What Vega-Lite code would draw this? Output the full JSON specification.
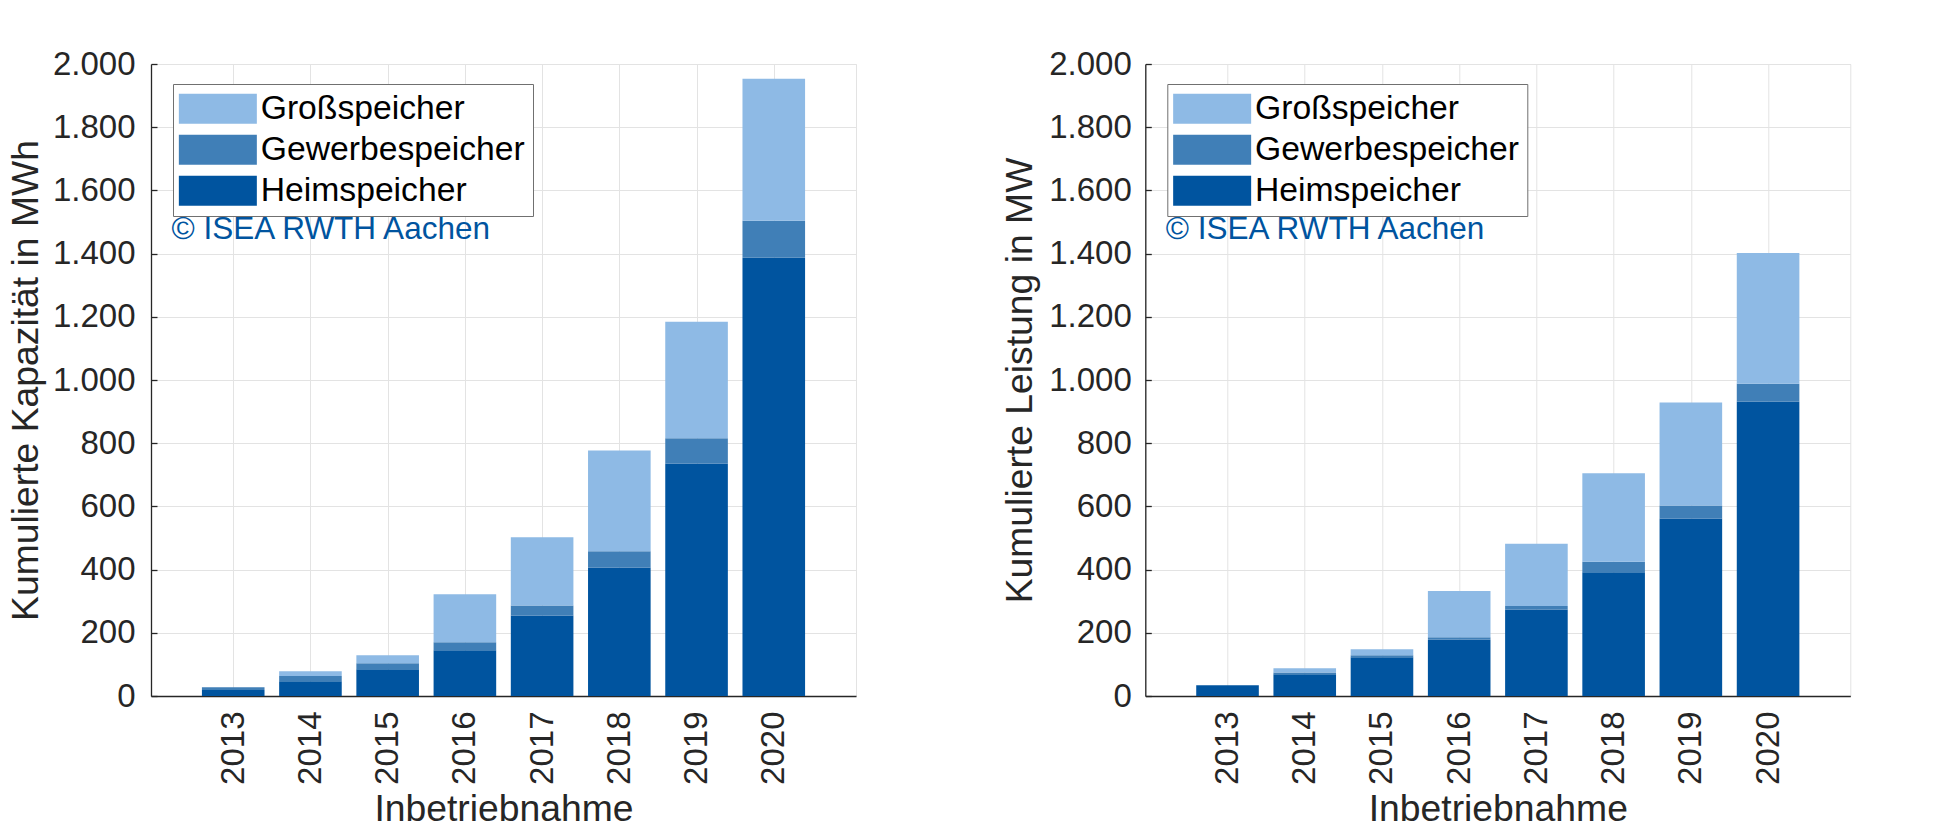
{
  "$schema": "https://vega.github.io/schema/vega-lite/v6.json",
  "background": "white",
  "padding": {"left": 6, "top": 47, "right": 10, "bottom": 5},
  "datasets": {
    "kapazitaet": [
      {"jahr": 2013, "typ": "Heimspeicher", "stapel": 1, "wert": 19},
      {"jahr": 2013, "typ": "Gewerbespeicher", "stapel": 2, "wert": 9},
      {"jahr": 2014, "typ": "Heimspeicher", "stapel": 1, "wert": 47},
      {"jahr": 2014, "typ": "Gewerbespeicher", "stapel": 2, "wert": 16},
      {"jahr": 2014, "typ": "Großspeicher", "stapel": 3, "wert": 15},
      {"jahr": 2015, "typ": "Heimspeicher", "stapel": 1, "wert": 85},
      {"jahr": 2015, "typ": "Gewerbespeicher", "stapel": 2, "wert": 19},
      {"jahr": 2015, "typ": "Großspeicher", "stapel": 3, "wert": 25},
      {"jahr": 2016, "typ": "Heimspeicher", "stapel": 1, "wert": 145},
      {"jahr": 2016, "typ": "Gewerbespeicher", "stapel": 2, "wert": 25},
      {"jahr": 2016, "typ": "Großspeicher", "stapel": 3, "wert": 152},
      {"jahr": 2017, "typ": "Heimspeicher", "stapel": 1, "wert": 255},
      {"jahr": 2017, "typ": "Gewerbespeicher", "stapel": 2, "wert": 31},
      {"jahr": 2017, "typ": "Großspeicher", "stapel": 3, "wert": 216},
      {"jahr": 2018, "typ": "Heimspeicher", "stapel": 1, "wert": 407},
      {"jahr": 2018, "typ": "Gewerbespeicher", "stapel": 2, "wert": 51},
      {"jahr": 2018, "typ": "Großspeicher", "stapel": 3, "wert": 319},
      {"jahr": 2019, "typ": "Heimspeicher", "stapel": 1, "wert": 736},
      {"jahr": 2019, "typ": "Gewerbespeicher", "stapel": 2, "wert": 80},
      {"jahr": 2019, "typ": "Großspeicher", "stapel": 3, "wert": 368},
      {"jahr": 2020, "typ": "Heimspeicher", "stapel": 1, "wert": 1387},
      {"jahr": 2020, "typ": "Gewerbespeicher", "stapel": 2, "wert": 117},
      {"jahr": 2020, "typ": "Großspeicher", "stapel": 3, "wert": 449}
    ],
    "leistung": [
      {"jahr": 2013, "typ": "Heimspeicher", "stapel": 1, "wert": 34},
      {"jahr": 2014, "typ": "Heimspeicher", "stapel": 1, "wert": 69},
      {"jahr": 2014, "typ": "Gewerbespeicher", "stapel": 2, "wert": 5},
      {"jahr": 2014, "typ": "Großspeicher", "stapel": 3, "wert": 14},
      {"jahr": 2015, "typ": "Heimspeicher", "stapel": 1, "wert": 123},
      {"jahr": 2015, "typ": "Gewerbespeicher", "stapel": 2, "wert": 6},
      {"jahr": 2015, "typ": "Großspeicher", "stapel": 3, "wert": 19},
      {"jahr": 2016, "typ": "Heimspeicher", "stapel": 1, "wert": 178},
      {"jahr": 2016, "typ": "Gewerbespeicher", "stapel": 2, "wert": 8},
      {"jahr": 2016, "typ": "Großspeicher", "stapel": 3, "wert": 146},
      {"jahr": 2017, "typ": "Heimspeicher", "stapel": 1, "wert": 274},
      {"jahr": 2017, "typ": "Gewerbespeicher", "stapel": 2, "wert": 11},
      {"jahr": 2017, "typ": "Großspeicher", "stapel": 3, "wert": 197},
      {"jahr": 2018, "typ": "Heimspeicher", "stapel": 1, "wert": 392},
      {"jahr": 2018, "typ": "Gewerbespeicher", "stapel": 2, "wert": 33},
      {"jahr": 2018, "typ": "Großspeicher", "stapel": 3, "wert": 280},
      {"jahr": 2019, "typ": "Heimspeicher", "stapel": 1, "wert": 562},
      {"jahr": 2019, "typ": "Gewerbespeicher", "stapel": 2, "wert": 41},
      {"jahr": 2019, "typ": "Großspeicher", "stapel": 3, "wert": 326},
      {"jahr": 2020, "typ": "Heimspeicher", "stapel": 1, "wert": 931},
      {"jahr": 2020, "typ": "Gewerbespeicher", "stapel": 2, "wert": 57},
      {"jahr": 2020, "typ": "Großspeicher", "stapel": 3, "wert": 414}
    ],
    "hinweis": [{"text": "© ISEA RWTH Aachen"}]
  },
  "hconcat": [
    {
      "width": 705,
      "height": 632,
      "layer": [
        {
          "data": {"name": "kapazitaet"},
          "mark": {"type": "bar", "width": 62.6},
          "encoding": {
            "x": {"field": "jahr", "type": "quantitative", "scale": {"domain": [2012, 2021], "nice": false, "zero": false},
                  "axis": {"values": [2013, 2014, 2015, 2016, 2017, 2018, 2019, 2020], "format": "d", "labelAngle": -90, "title": "Inbetriebnahme", "labelPadding": 21, "titlePadding": 7}},
            "y": {"field": "wert", "type": "quantitative", "stack": "zero", "scale": {"domain": [0, 2000], "nice": false},
                  "axis": {"values": [0, 200, 400, 600, 800, 1000, 1200, 1400, 1600, 1800, 2000], "labelExpr": "replace(format(datum.value, ','), ',', '.')", "title": "Kumulierte Kapazität in MWh", "labelPadding": 22, "titlePadding": 7}},
            "color": {"field": "typ", "type": "nominal",
                      "scale": {"domain": ["Großspeicher", "Gewerbespeicher", "Heimspeicher"], "range": ["#8EBAE5", "#407FB7", "#00549F"]},
                      "legend": {"title": null, "orient": "none", "legendX": 22, "legendY": 20}},
            "order": {"field": "stapel", "type": "quantitative"}
          }
        },
        {
          "data": {"name": "hinweis"},
          "mark": {"type": "text", "align": "left", "baseline": "alphabetic", "fontSize": 31.5, "color": "#00549F", "font": "Liberation Sans"},
          "encoding": {"x": {"datum": 2012.2}, "y": {"datum": 1446}, "text": {"field": "text"}}
        }
      ]
    },
    {
      "width": 705,
      "height": 632,
      "layer": [
        {
          "data": {"name": "leistung"},
          "mark": {"type": "bar", "width": 62.6},
          "encoding": {
            "x": {"field": "jahr", "type": "quantitative", "scale": {"domain": [2012, 2021], "nice": false, "zero": false},
                  "axis": {"values": [2013, 2014, 2015, 2016, 2017, 2018, 2019, 2020], "format": "d", "labelAngle": -90, "title": "Inbetriebnahme", "labelPadding": 21, "titlePadding": 7}},
            "y": {"field": "wert", "type": "quantitative", "stack": "zero", "scale": {"domain": [0, 2000], "nice": false},
                  "axis": {"values": [0, 200, 400, 600, 800, 1000, 1200, 1400, 1600, 1800, 2000], "labelExpr": "replace(format(datum.value, ','), ',', '.')", "title": "Kumulierte Leistung in MW", "labelPadding": 20, "titlePadding": 9}},
            "color": {"field": "typ", "type": "nominal",
                      "scale": {"domain": ["Großspeicher", "Gewerbespeicher", "Heimspeicher"], "range": ["#8EBAE5", "#407FB7", "#00549F"]},
                      "legend": {"title": null, "orient": "none", "legendX": 22, "legendY": 20}},
            "order": {"field": "stapel", "type": "quantitative"}
          }
        },
        {
          "data": {"name": "hinweis"},
          "mark": {"type": "text", "align": "left", "baseline": "alphabetic", "fontSize": 31.5, "color": "#00549F", "font": "Liberation Sans"},
          "encoding": {"x": {"datum": 2012.2}, "y": {"datum": 1446}, "text": {"field": "text"}}
        }
      ]
    }
  ],
  "spacing": 289.3,
  "bounds": "flush",
  "resolve": {"scale": {"color": "independent", "x": "independent", "y": "independent"}, "legend": {"color": "independent"}},
  "config": {
    "font": "Liberation Sans",
    "view": {"stroke": "#e3e3e3", "strokeWidth": 1},
    "axis": {
      "labelFont": "Liberation Sans", "labelFontSize": 33, "labelColor": "#262626",
      "titleFont": "Liberation Sans", "titleFontSize": 37.3, "titleFontWeight": "normal", "titleColor": "#262626",
      "domainColor": "#262626", "domainWidth": 1.3,
      "tickColor": "#262626", "tickSize": -6, "tickWidth": 1.3,
      "gridColor": "#e3e3e3", "gridWidth": 1
    },
    "legend": {
      "labelFont": "Liberation Sans", "labelFontSize": 33.7, "labelColor": "#000000", "labelLimit": 500,
      "labelOffset": 26, "labelBaseline": "middle",
      "symbolType": "M-2.6,-1H2.6V1H-2.6Z", "symbolSize": 900, "symbolStrokeWidth": 0, "symbolOffset": 20, "symbolOpacity": 1,
      "rowPadding": 6, "padding": 8, "strokeColor": "#707070", "fillColor": "#ffffff", "cornerRadius": 0
    }
  }
}
